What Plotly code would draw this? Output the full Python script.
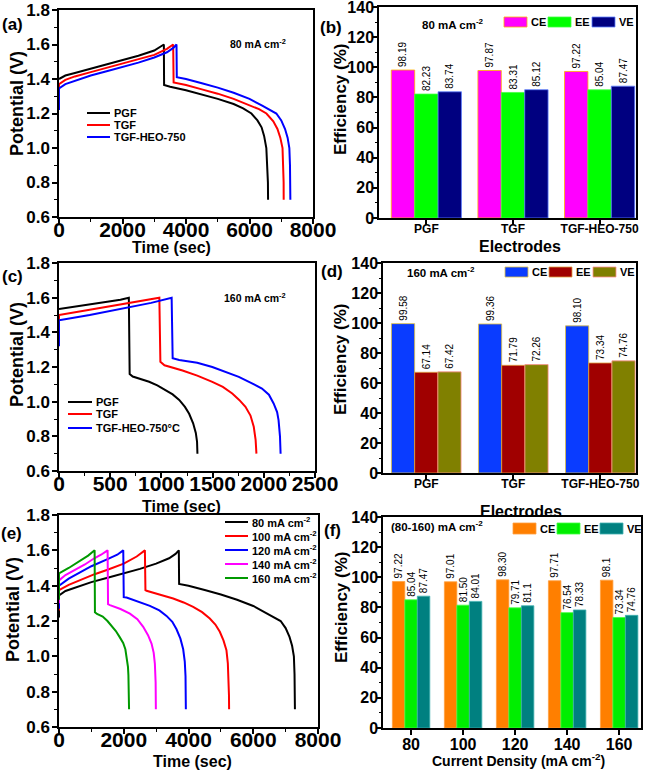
import plotly.graph_objects as go

W, H = 646, 771
FONT = "Liberation Sans"

# ---------------- (a) 80 mA cm-2 : PGF / TGF / TGF-HEO-750 ----------------
a_names = ["PGF", "TGF", "TGF-HEO-750"]
pgf80_t = [0, 200, 500, 1000, 1500, 2000, 2500, 3000, 3200, 3303,
           3310, 3500, 4000, 4500, 5000, 5500, 5800, 6060, 6250, 6380, 6460, 6530, 6565, 6580, 6585]
pgf80_v = [1.40, 1.42, 1.435, 1.46, 1.485, 1.51, 1.535, 1.565, 1.585, 1.60,
           1.365, 1.355, 1.335, 1.31, 1.285, 1.255, 1.23, 1.20, 1.16, 1.12, 1.07, 1.00, 0.90, 0.80, 0.70]
tgf80_t = [0, 0, 200, 500, 1000, 1500, 2000, 2500, 3000, 3400, 3596,
           3610, 4000, 4500, 5000, 5500, 6000, 6300, 6533, 6750, 6880, 6970, 7040, 7065, 7075, 7077]
tgf80_v = [1.33, 1.37, 1.395, 1.415, 1.44, 1.465, 1.49, 1.515, 1.54, 1.575, 1.60,
           1.38, 1.365, 1.34, 1.315, 1.285, 1.25, 1.225, 1.20, 1.155, 1.11, 1.06, 1.00, 0.90, 0.80, 0.70]
heo80_t = [0, 0, 200, 500, 1000, 1500, 2000, 2500, 3000, 3400, 3600, 3701,
           3710, 4000, 4500, 5000, 5500, 6000, 6400, 6846, 7000, 7120, 7200, 7255, 7275, 7283, 7287]
heo80_v = [1.22, 1.345, 1.37, 1.39, 1.42, 1.445, 1.47, 1.495, 1.525, 1.555, 1.58, 1.60,
           1.41, 1.40, 1.375, 1.35, 1.32, 1.285, 1.245, 1.20, 1.16, 1.11, 1.06, 1.00, 0.90, 0.80, 0.70]

# ---------------- (c) 160 mA cm-2 ----------------
c_names = ["PGF", "TGF", "TGF-HEO-750°C"]
pgf160_t = [0, 200, 400, 600, 682, 690, 720, 800, 880, 960, 1045, 1110, 1174, 1230, 1271, 1310, 1336, 1348, 1352]
pgf160_v = [1.535, 1.553, 1.57, 1.588, 1.60, 1.16, 1.145, 1.132, 1.115, 1.094, 1.067, 1.042, 1.01, 0.97, 0.93, 0.875, 0.82, 0.77, 0.70]
tgf160_t = [0, 0, 300, 600, 800, 980, 990, 1030, 1206, 1350, 1497, 1600, 1692, 1760, 1821, 1870, 1902, 1920, 1928]
tgf160_v = [1.45, 1.50, 1.53, 1.56, 1.58, 1.60, 1.23, 1.21, 1.18, 1.15, 1.114, 1.085, 1.047, 1.01, 0.97, 0.92, 0.855, 0.78, 0.70]
heo160_t = [0, 0, 300, 600, 900, 1100, 1110, 1174, 1350, 1497, 1620, 1756, 1870, 1982, 2050, 2096, 2130, 2144, 2158, 2164]
heo160_v = [1.32, 1.47, 1.50, 1.535, 1.57, 1.60, 1.25, 1.24, 1.225, 1.20, 1.175, 1.143, 1.11, 1.076, 1.04, 0.99, 0.94, 0.894, 0.80, 0.70]

# ---------------- (e) TGF-HEO-750 at 80-160 mA cm-2 ----------------
e_names = ["80 mA cm<sup>-2</sup>", "100 mA cm<sup>-2</sup>", "120 mA cm<sup>-2</sup>",
           "140 mA cm<sup>-2</sup>", "160 mA cm<sup>-2</sup>"]
t100 = [0, 0, 300, 700, 1100, 1500, 2000, 2400, 2653,
        2670, 2705, 3100, 3527, 3850, 4144, 4420, 4658, 4830, 4967, 5080, 5172, 5215, 5234, 5250, 5254]
v100 = [1.26, 1.375, 1.405, 1.435, 1.465, 1.49, 1.525, 1.565, 1.60,
        1.375, 1.371, 1.35, 1.327, 1.305, 1.28, 1.25, 1.214, 1.18, 1.139, 1.09, 1.035, 0.96, 0.884, 0.78, 0.70]
t120 = [0, 0, 300, 600, 1000, 1500, 1800, 1985,
        2000, 2087, 2450, 2807, 3100, 3321, 3500, 3630, 3750, 3836, 3885, 3908, 3918]
v120 = [1.27, 1.40, 1.44, 1.47, 1.51, 1.55, 1.575, 1.60,
        1.335, 1.333, 1.31, 1.286, 1.26, 1.229, 1.195, 1.153, 1.10, 1.04, 0.97, 0.888, 0.70]
t140 = [0, 0, 200, 500, 800, 1090, 1300, 1501,
        1515, 1574, 1900, 2190, 2420, 2601, 2750, 2858, 2925, 2961, 2985, 2992]
v140 = [1.30, 1.43, 1.46, 1.49, 1.52, 1.555, 1.575, 1.60,
        1.295, 1.29, 1.268, 1.242, 1.21, 1.167, 1.12, 1.072, 1.02, 0.959, 0.85, 0.70]

# ---------------- bar data ----------------
eff_names = ["CE", "EE", "VE"]
b_cats = ["PGF", "TGF", "TGF-HEO-750"]
b_CE = ["98.19", "97.87", "97.22"]
b_EE = ["82.23", "83.31", "85.04"]
b_VE = ["83.74", "85.12", "87.47"]

d_cats = ["PGF", "TGF", "TGF-HEO-750"]
d_CE = ["99.58", "99.36", "98.10"]
d_EE = ["67.14", "71.79", "73.34"]
d_VE = ["67.42", "72.26", "74.76"]

f_cats = ["80", "100", "120", "140", "160"]
f_CE = ["97.22", "97.01", "98.30", "97.71", "98.1"]
f_EE = ["85.04", "81.50", "79.71", "76.54", "73.34"]
f_VE = ["87.47", "84.01", "81.1", "78.33", "74.76"]

# ---------------- figure ----------------
fig = go.Figure()

def px(x):
    return x / W

def py(y):
    return 1 - y / H

# pixel boxes of each panel: (left, right, top, bottom)
boxes = {
    1: (59, 313, 10, 217),
    2: (379, 636, 7, 218),
    3: (59, 315, 263, 471),
    4: (383, 636, 263, 473),
    5: (59, 318, 515, 727),
    6: (383, 641, 517, 728),
}

def bold(size):
    return dict(family=FONT, size=size, color="black", weight="bold")

def add_lines(ts, vs, names, colors, n):
    for t, v, nm, c in zip(ts, vs, names, colors):
        fig.add_trace(go.Scatter(x=t, y=v, mode="lines", name=nm,
                                 line=dict(color=c, width=2),
                                 xaxis=f"x{n}", yaxis=f"y{n}", showlegend=False))

line_cols3 = ["#000000", "#ff0000", "#0000ff"]
add_lines([pgf80_t, tgf80_t, heo80_t], [pgf80_v, tgf80_v, heo80_v], a_names, line_cols3, 1)
add_lines([pgf160_t, tgf160_t, heo160_t], [pgf160_v, tgf160_v, heo160_v], c_names, line_cols3, 3)
e_cols = ["#000000", "#ff0000", "#0000ff", "#ff00ff", "#009900"]
add_lines([heo80_t, t100, t120, t140, heo160_t], [heo80_v, v100, v120, v140, heo160_v], e_names, e_cols, 5)

def add_bars(cats, series, colors, edge, n, gw, tsize=10):
    bw = gw / 3
    for i, (vals, nm, c) in enumerate(zip(series, eff_names, colors)):
        fig.add_trace(go.Bar(x=cats, y=[float(v) for v in vals], text=vals, name=nm,
                             width=bw, offset=-gw / 2 + i * bw,
                             marker=dict(color=c, line=dict(color=edge[i], width=0.8)),
                             textposition="outside", textangle=-90, constraintext="none",
                             cliponaxis=False,
                             textfont=dict(family=FONT, size=tsize, color="black"),
                             xaxis=f"x{n}", yaxis=f"y{n}", showlegend=False))

b_cols = ["#ff00ff", "#00ff00", "#000080"]
d_cols = ["#0a3cff", "#a00000", "#808000"]
f_cols = ["#ff7f00", "#00ee00", "#008080"]
b_edge = ["#ffb000", "#40ff40", "#6080ff"]
d_edge = ["#e0c040", "#e0a040", "#ff9090"]
f_edge = ["#ff9f40", "#40ff40", "#40b0b0"]
add_bars(b_cats, [b_CE, b_EE, b_VE], b_cols, b_edge, 2, 0.81)
add_bars(d_cats, [d_CE, d_EE, d_VE], d_cols, d_edge, 4, 0.80)
add_bars(f_cats, [f_CE, f_EE, f_VE], f_cols, f_edge, 6, 0.72)

# ---------------- axes ----------------
base = dict(showline=True, linecolor="black", linewidth=1.5, mirror=True,
            ticks="outside", ticklen=5, tickwidth=1.5, tickcolor="black",
            showgrid=False, zeroline=False, automargin=False,
            ticklabeloverflow="allow")

layout_axes = {}
for n, (l, r, t, b) in boxes.items():
    sx = "xaxis" if n == 1 else f"xaxis{n}"
    sy = "yaxis" if n == 1 else f"yaxis{n}"
    layout_axes[sx] = dict(base, domain=[px(l), px(r)], anchor=f"y{n}" if n > 1 else "y")
    layout_axes[sy] = dict(base, domain=[py(b), py(t)], anchor=f"x{n}" if n > 1 else "x")

minor_y_line = dict(ticks="outside", ticklen=3, tickwidth=1.2, tickcolor="black", dtick=0.1)
for n, xr, xd in [(1, [0, 8000], 2000), (3, [0, 2500], 500), (5, [0, 8000], 2000)]:
    sx = "xaxis" if n == 1 else f"xaxis{n}"
    sy = "yaxis" if n == 1 else f"yaxis{n}"
    layout_axes[sx].update(range=xr, dtick=xd, tick0=0, tickfont=bold(21),
                           ticklabelstandoff=-12,
                           minor=dict(ticks="outside", ticklen=3, tickwidth=1.2,
                                      tickcolor="black", dtick=xd / 2))
    layout_axes[sy].update(range=[0.6, 1.8], dtick=0.2, tick0=0.6, tickformat=".1f",
                           tickfont=bold(17), ticklabelstandoff=-1, minor=minor_y_line)

for n, rng, fs, so in [(2, [-0.547, 2.42], 12, -6), (4, [-0.497, 2.41], 12, -6),
                       (6, [-0.54, 4.42], 16, -4)]:
    sx = f"xaxis{n}"
    sy = f"yaxis{n}"
    layout_axes[sx].update(type="category", range=rng, tickfont=bold(fs),
                           ticklabelstandoff=so)
    layout_axes[sy].update(range=[0, 140], dtick=20, tick0=0, tickfont=bold(16),
                           ticklen=4, ticklabelstandoff=-4,
                           minor=dict(ticks="outside", ticklen=2.5, tickwidth=1.2,
                                      tickcolor="black", dtick=10))

fig.update_layout(**layout_axes)

# ---------------- text annotations ----------------
def txt(x, y, s, size, xanchor="center", angle=0):
    fig.add_annotation(x=px(x), y=py(y), xref="paper", yref="paper", text=s,
                       showarrow=False, font=bold(size), xanchor=xanchor,
                       yanchor="middle", textangle=angle)

# panel labels
for lab, x, y in [("(a)", 12, 25), ("(b)", 331, 28), ("(c)", 12, 276),
                  ("(d)", 332, 271), ("(e)", 11, 533), ("(f)", 332, 530)]:
    txt(x, y, lab, 17)

# axis titles
for x, y in [(17, 104), (17, 355), (13, 610)]:
    txt(x, y, "Potential (V)", 18, angle=-90)
for x, y in [(341, 100), (340, 360), (341, 608)]:
    txt(x, y, "Efficiency (%)", 17, angle=-90)
txt(171, 248, "Time (sec)", 16)
txt(182, 506, "Time (sec)", 16)
txt(192, 761, "Time (sec)", 16)
txt(520, 247, "Electrodes", 16)
txt(521, 511, "Electrodes", 16)
txt(518, 760, "Current Density (mA cm<sup>-2</sup>)", 14)

# condition labels
txt(228, 43, "80 mA cm<sup>-2</sup>", 10.5, xanchor="left")
txt(222, 297, "160 mA cm<sup>-2</sup>", 10.5, xanchor="left")
txt(420, 24, "80 mA cm<sup>-2</sup>", 11.5, xanchor="left")
txt(405, 272, "160 mA cm<sup>-2</sup>", 11.5, xanchor="left")
txt(389, 526, "(80-160) mA cm<sup>-2</sup>", 11.5, xanchor="left")

# ---------------- hand-made legends ----------------
def line_legend(x0, x1, ys, names, colors):
    for y, nm, c in zip(ys, names, colors):
        fig.add_shape(type="line", xref="paper", yref="paper",
                      x0=px(x0), x1=px(x1), y0=py(y), y1=py(y),
                      line=dict(color=c, width=2))
        txt(x1 + 2, y, nm, 11, xanchor="left")

line_legend(87, 110, [113, 125, 137], a_names, line_cols3)
line_legend(68, 92, [402, 414, 428], c_names, line_cols3)
line_legend(225, 248, [522, 536, 550, 564, 578], e_names, e_cols)

def box_legend(xs, y0, y1, colors, edge):
    for x, nm, c, e in zip(xs, eff_names, colors, edge):
        fig.add_shape(type="rect", xref="paper", yref="paper",
                      x0=px(x), x1=px(x + 23), y0=py(y1), y1=py(y0),
                      fillcolor=c, line=dict(color=e, width=0.8))
        txt(x + 25, (y0 + y1) / 2, nm, 11, xanchor="left")

box_legend([504, 548, 592], 17, 27, b_cols, b_edge)
box_legend([505, 549, 593], 267, 277, d_cols, d_edge)
box_legend([513, 557, 600], 523, 534, f_cols, f_edge)

fig.update_layout(width=W, height=H, margin=dict(l=0, r=0, t=0, b=0, autoexpand=False),
                  paper_bgcolor="white", plot_bgcolor="white",
                  barmode="overlay", showlegend=False,
                  font=dict(family=FONT, color="black"))

fig.write_html("out.html", config={"displayModeBar": False},
               post_script="document.body.style.margin='0px';document.body.style.padding='0px';")
